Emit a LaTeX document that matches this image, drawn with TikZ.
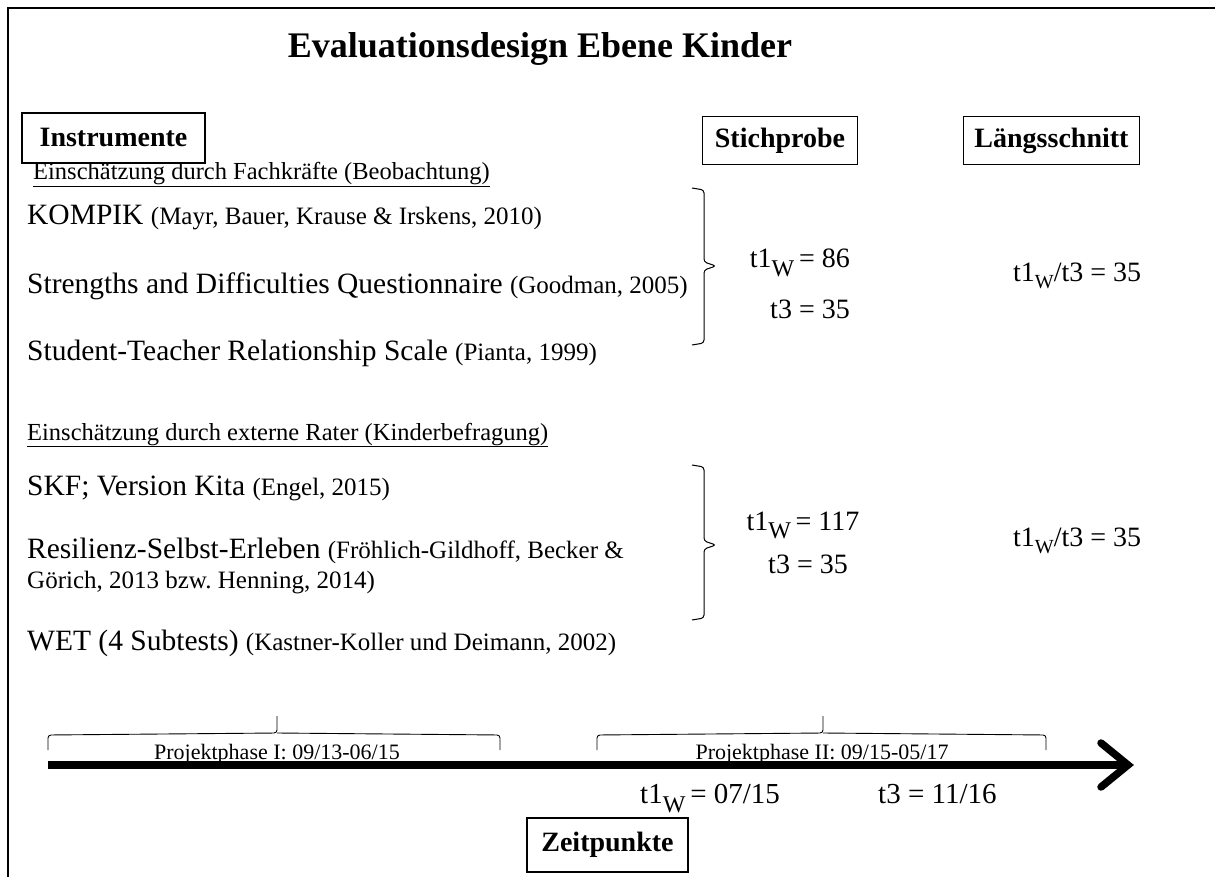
\documentclass[tikz,border=0pt]{standalone}
\usepackage{fontspec}
\setmainfont{Liberation Serif}
\frenchspacing
\begin{document}
\begin{tikzpicture}[x=1pt,y=-1pt,
  hdrbox/.style={draw, line width=1.1pt, font=\fontsize{28}{32}\selectfont\bfseries, inner xsep=2pt, inner ysep=0pt},
  txt/.style={anchor=base west, inner sep=0pt},
  big/.style={font=\fontsize{29.5}{34}\selectfont},
  sect/.style={txt, font=\fontsize{24.5}{28}\selectfont},
  val/.style={inner sep=0pt, font=\fontsize{28}{32}\selectfont},
  phase/.style={inner sep=0pt, anchor=base, font=\fontsize{22}{26}\selectfont},
  brc/.style={line width=1pt, rounded corners=3pt},
  frame/.style={line width=1.5pt}
]
\newcommand{\cit}[1]{{\fontsize{25}{30}\selectfont #1}}
\newcommand{\subw}{\raisebox{-0.32em}{\fontsize{24}{24}\selectfont W}}
\newcommand{\subws}{\raisebox{-0.25em}{\fontsize{20}{20}\selectfont W}}
\useasboundingbox (0,0) rectangle (1215,877);
% frame
\coordinate (fa) at (8,877);
\coordinate (fb) at (8,8);
\coordinate (fc) at (1215,8);
\draw[frame] (fa) -- (fb) -- (fc);
% title
\node[anchor=base, inner sep=0pt, font=\fontsize{36}{40}\selectfont\bfseries] (title) at (540,58) {Evaluationsdesign Ebene Kinder};
% header boxes
\node[hdrbox, minimum width=183pt, minimum height=50pt] (instr) at (113.5,138) {Instrumente};
\node[hdrbox, minimum width=155pt, minimum height=48pt] (stich) at (780,140.5) {Stichprobe};
\node[hdrbox, minimum width=176pt, minimum height=48pt] (laengs) at (1051.5,140.5) {Längsschnitt};
% section 1
\node[sect] (s1) at (33,180) {\underline{Einschätzung durch Fachkräfte (Beobachtung)}};
\node[txt, big] (i1) at (27,225) {KOMPIK \cit{(Mayr, Bauer, Krause \& Irskens, 2010)}};
\node[txt, big] (i2) at (27,294) {Strengths and Difficulties Questionnaire \cit{(Goodman, 2005)}};
\node[txt, big] (i3) at (27,360) {Student-Teacher Relationship Scale \cit{(Pianta, 1999)}};
% brace 1
\coordinate (b1a) at (692,188);
\coordinate (b1b) at (704,190);
\coordinate (b1m) at (716,266);
\coordinate (b1c) at (704,343);
\coordinate (b1d) at (692,345);
\draw[brc] (b1a) -- (b1b) -- (b1b |- 0,262) -- (b1m) -- (b1b |- 0,270) -- (b1c) -- (b1d);
\node[val, anchor=base east] (v1a) at (850,268) {t1\subw\,= 86};
\node[val, anchor=base east] (v1b) at (850,318) {t3 = 35};
\node[val, anchor=base west] (l1) at (1013,282) {t1\subws/t3 = 35};
% section 2
\node[sect] (s2) at (27,440) {\underline{Einschätzung durch externe Rater (Kinderbefragung)}};
\node[txt, big] (i4) at (27,495) {SKF; Version Kita \cit{(Engel, 2015)}};
\node[txt, big] (i5) at (27,558) {Resilienz-Selbst-Erleben \cit{(Fröhlich-Gildhoff, Becker \&}};
\node[txt] (i5b) at (27,588) {\cit{Görich, 2013 bzw. Henning, 2014)}};
\node[txt, big] (i6) at (27,650) {WET (4 Subtests) \cit{(Kastner-Koller und Deimann, 2002)}};
% brace 2
\coordinate (b2a) at (692,465);
\coordinate (b2b) at (704,467);
\coordinate (b2m) at (716,545);
\coordinate (b2c) at (704,618);
\coordinate (b2d) at (692,620);
\draw[brc] (b2a) -- (b2b) -- (b2b |- 0,541) -- (b2m) -- (b2b |- 0,549) -- (b2c) -- (b2d);
\node[val, anchor=base] (v2a) at (803,530) {t1\subw\,= 117};
\node[val, anchor=base] (v2b) at (808,573) {t3 = 35};
\node[val, anchor=base west] (l2) at (1013,546) {t1\subws/t3 = 35};
% timeline
\coordinate (tl0) at (48,765);
\coordinate (tl1) at (1128,765);
\draw[line width=8.5pt] (tl0) -- (tl1);
\coordinate (ah1) at (1101,743);
\coordinate (ah2) at (1101,787);
\draw[line width=7.5pt, line cap=round, line join=miter] (ah1) -- (tl1) -- (ah2);
% phase braces
\coordinate (p1a) at (48,750);
\coordinate (p1t) at (277,716);
\coordinate (p1b) at (500,750);
\draw[brc, line width=0.9pt] (p1a) -- (p1a |- 0,735) -- (p1t |- 0,733) -- (p1t) (p1t |- 0,733) -- (p1b |- 0,735) -- (p1b);
\coordinate (p2a) at (597,750);
\coordinate (p2t) at (823,716);
\coordinate (p2b) at (1046,750);
\draw[brc, line width=0.9pt] (p2a) -- (p2a |- 0,735) -- (p2t |- 0,733) -- (p2t) (p2t |- 0,733) -- (p2b |- 0,735) -- (p2b);
\node[phase] (ph1) at (277,759) {Projektphase I: 09/13-06/15};
\node[phase] (ph2) at (822,759) {Projektphase II: 09/15-05/17};
\node[val, anchor=base west, font=\fontsize{29}{32}\selectfont] (z1) at (640,803) {t1\subw\,= 07/15};
\node[val, anchor=base west, font=\fontsize{29}{32}\selectfont] (z2) at (878,803) {t3 = 11/16};
\node[hdrbox, minimum width=161pt, minimum height=54pt] (zeit) at (607.5,845) {Zeitpunkte};
\end{tikzpicture}
\end{document}
